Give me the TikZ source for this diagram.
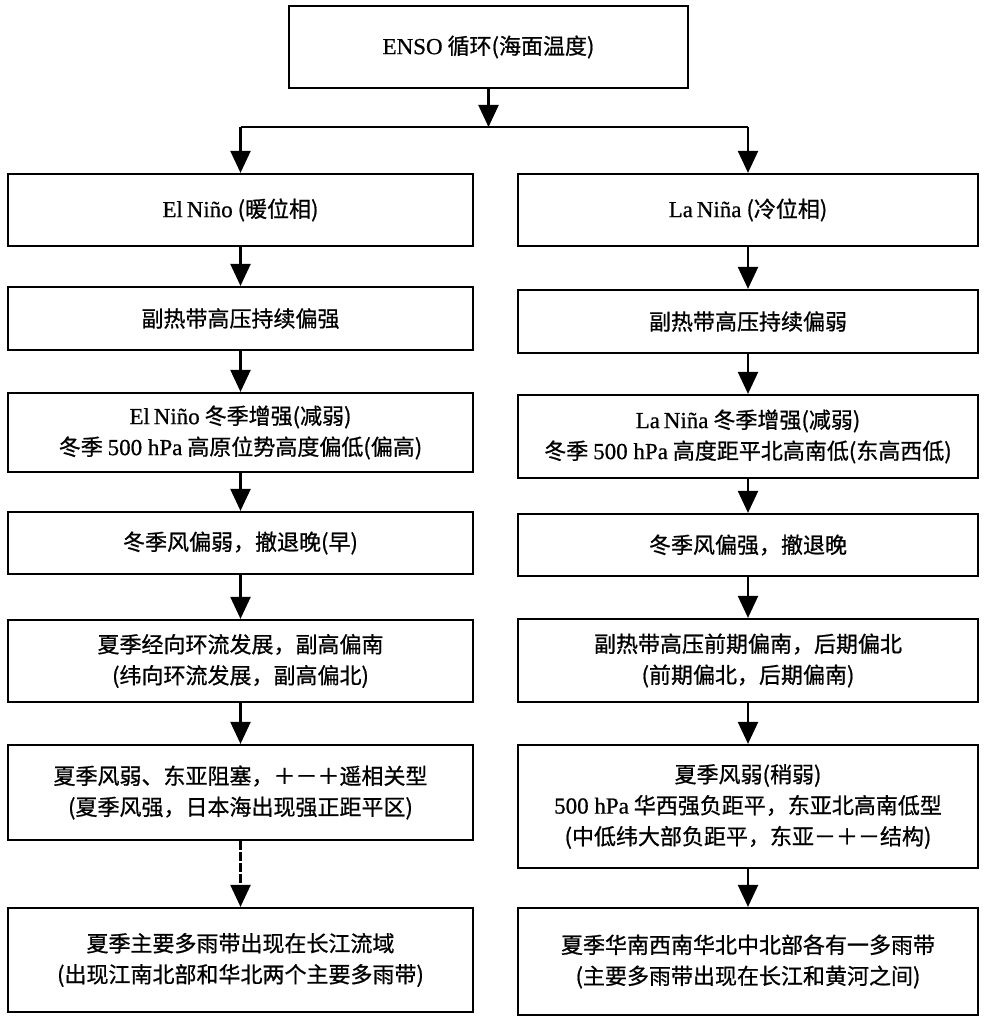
\documentclass[tikz,border=0pt]{standalone}
\usepackage{fontspec}
\setmainfont[FakeBold=0.6]{Liberation Serif}
\newfontfamily\zhfont[FakeBold=0.8]{Noto Sans CJK SC}
\newcommand\en[1]{{\rmfamily\fontsize{23}{31}\selectfont #1}}
\usetikzlibrary{arrows.meta}
\begin{document}
\begin{tikzpicture}[x=1pt,y=-1pt,
  box/.style={draw=black, line width=2.2pt, fill=white, align=center,
    inner sep=0pt, font=\zhfont\fontsize{22}{31}\selectfont},
  conn/.style={line width=2.2pt, -{Triangle[width=20pt,length=22pt]}},
  plain/.style={line width=2.2pt}]
\useasboundingbox (0,0) rectangle (984,1019);
% top
\node[box, minimum width=399, minimum height=82] (top) at (488.5,47)
  {\en{ENSO} 循环(海面温度)};
% left column
\node[box, minimum width=465, minimum height=72] (L1) at (240.5,210)
  {\en{El\,Niño} (暖位相)};
\node[box, minimum width=465, minimum height=63] (L2) at (240.5,318.5)
  {副热带高压持续偏强};
\node[box, minimum width=465, minimum height=79] (L3) at (240.5,432.5)
  {\en{El\,Niño} 冬季增强(减弱)\\冬季 \en{500 hPa} 高原位势高度偏低(偏高)};
\node[box, minimum width=465, minimum height=62] (L4) at (240.5,543)
  {冬季风偏弱，撤退晚(早)};
\node[box, minimum width=465, minimum height=82] (L5) at (240.5,661)
  {夏季经向环流发展，副高偏南\\(纬向环流发展，副高偏北)};
\node[box, minimum width=465, minimum height=95] (L6) at (240.5,792.5)
  {夏季风弱、东亚阻塞，＋－＋遥相关型\\(夏季风强，日本海出现强正距平区)};
\node[box, minimum width=465, minimum height=104] (L7) at (240.5,960)
  {夏季主要多雨带出现在长江流域\\(出现江南北部和华北两个主要多雨带)};
% right column
\node[box, minimum width=460, minimum height=72] (R1) at (748,210)
  {\en{La\,Niña} (冷位相)};
\node[box, minimum width=460, minimum height=63] (R2) at (748,321.5)
  {副热带高压持续偏弱};
\node[box, minimum width=460, minimum height=83] (R3) at (748,436.5)
  {\en{La\,Niña} 冬季增强(减弱)\\冬季 \en{500 hPa} 高度距平北高南低(东高西低)};
\node[box, minimum width=460, minimum height=62] (R4) at (748,545)
  {冬季风偏强，撤退晚};
\node[box, minimum width=460, minimum height=83] (R5) at (748,660.5)
  {副热带高压前期偏南，后期偏北\\(前期偏北，后期偏南)};
\node[box, minimum width=460, minimum height=123] (R6) at (748,806.5)
  {夏季风弱(稍弱)\\\en{500 hPa} 华西强负距平，东亚北高南低型\\(中低纬大部负距平，东亚－＋－结构)};
\node[box, minimum width=460, minimum height=107] (R7) at (748,961.5)
  {夏季华南西南华北中北部各有一多雨带\\(主要多雨带出现在长江和黄河之间)};
% connectors
\coordinate (j) at (488.5,127);
\coordinate (jl) at (240.5,127);
\coordinate (jr) at (748,127);
\draw[conn] (top.south) -- (j);
\draw[plain] (jl) -- (jr);
\draw[conn] (jl) -- (L1.north);
\draw[conn] (jr) -- (R1.north);
\draw[conn] (L1) -- (L2);
\draw[conn] (L2) -- (L3);
\draw[conn] (L3) -- (L4);
\draw[conn] (L4) -- (L5);
\draw[conn] (L5) -- (L6);
\draw[conn, dash pattern=on 9pt off 2pt] (L6) -- (L7);
\draw[conn] (R1) -- (R2);
\draw[conn] (R2) -- (R3);
\draw[conn] (R3) -- (R4);
\draw[conn] (R4) -- (R5);
\draw[conn] (R5) -- (R6);
\draw[conn] (R6) -- (R7);
\end{tikzpicture}
\end{document}
